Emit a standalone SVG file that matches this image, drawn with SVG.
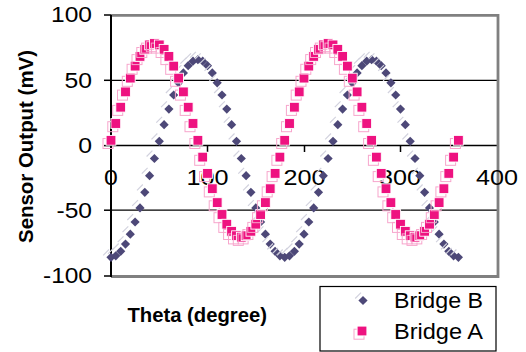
<svg xmlns="http://www.w3.org/2000/svg" width="526" height="352" viewBox="0 0 526 352">
<style>
.tick{font-family:"Liberation Sans",Arial,sans-serif;font-size:21.5px;fill:#000}
.title{font-family:"Liberation Sans",Arial,sans-serif;font-size:20px;font-weight:bold;fill:#000}
.leg{font-family:"Liberation Sans",Arial,sans-serif;font-size:22px;fill:#000}
.grid{stroke:#000;stroke-width:1.2}
.frame{stroke:#808080;fill:none}
</style>
<defs>
<g id="sq"><rect x="-8" y="-1.8" width="10" height="10" fill="none" stroke="#F7A6CC" stroke-width="1"/><rect x="-4.9" y="-4.9" width="9.8" height="9.8" fill="#EE1280" stroke="#fff" stroke-width="0.9"/></g>
<g id="dm"><line x1="-7.8" y1="-2" x2="-2" y2="-7.8" stroke="#D2D2DE" stroke-width="1.2"/><path d="M0,-4.6L4.6,0L0,4.6L-4.6,0Z" fill="#4D4878"/></g>
</defs>
<rect width="526" height="352" fill="#fff"/>
<g id="axes">
<line class="grid" x1="111" y1="80.3" x2="497" y2="80.3"/>
<line class="grid" x1="111" y1="210.2" x2="497" y2="210.2"/>
<line x1="111" y1="145.6" x2="497" y2="145.6" stroke="#000" stroke-width="1.5"/>
<g stroke="#000" stroke-width="1.5">
<line x1="207.5" y1="145.6" x2="207.5" y2="152"/>
<line x1="304.5" y1="145.6" x2="304.5" y2="152"/>
<line x1="400.5" y1="145.6" x2="400.5" y2="152"/>
<line x1="104" y1="15" x2="111" y2="15"/>
<line x1="104" y1="80.3" x2="111" y2="80.3"/>
<line x1="104" y1="145.6" x2="111" y2="145.6"/>
<line x1="104" y1="210.2" x2="111" y2="210.2"/>
<line x1="104" y1="276" x2="111" y2="276"/>
</g>
<path class="frame" d="M111,15.3H498V276.5H111" stroke-width="2.8"/>
<line x1="111" y1="15" x2="111" y2="277" stroke="#000" stroke-width="2"/>
</g>
<g id="labels">
<text class="tick" x="92" y="22" text-anchor="end" textLength="41" lengthAdjust="spacingAndGlyphs">100</text>
<text class="tick" x="92" y="87.5" text-anchor="end" textLength="27.5" lengthAdjust="spacingAndGlyphs">50</text>
<text class="tick" x="92" y="153" text-anchor="end" textLength="13.8" lengthAdjust="spacingAndGlyphs">0</text>
<text class="tick" x="92" y="217.5" text-anchor="end" textLength="35.5" lengthAdjust="spacingAndGlyphs">-50</text>
<text class="tick" x="92" y="283" text-anchor="end" textLength="49" lengthAdjust="spacingAndGlyphs">-100</text>
<text class="tick" x="111" y="185" text-anchor="middle" textLength="13.8" lengthAdjust="spacingAndGlyphs">0</text>
<text class="tick" x="207.5" y="185" text-anchor="middle" textLength="42" lengthAdjust="spacingAndGlyphs">100</text>
<text class="tick" x="304.5" y="185" text-anchor="middle" textLength="42" lengthAdjust="spacingAndGlyphs">200</text>
<text class="tick" x="400" y="185" text-anchor="middle" textLength="42" lengthAdjust="spacingAndGlyphs">300</text>
<text class="tick" x="497" y="185" text-anchor="middle" textLength="42" lengthAdjust="spacingAndGlyphs">400</text>
<text class="title" transform="translate(33,146.5) rotate(-90)" text-anchor="middle" textLength="193" lengthAdjust="spacingAndGlyphs">Sensor Output (mV)</text>
<text class="title" x="127.5" y="321.5" textLength="139.5" lengthAdjust="spacingAndGlyphs">Theta (degree)</text>
</g>
<g id="series-bridge-b">
<use href="#dm" x="111" y="257.3"/><use href="#dm" x="115.8" y="255.8"/><use href="#dm" x="120.7" y="251.3"/><use href="#dm" x="125.5" y="244.1"/><use href="#dm" x="130.3" y="234.2"/><use href="#dm" x="135.1" y="222"/><use href="#dm" x="140" y="207.9"/><use href="#dm" x="144.8" y="192.3"/><use href="#dm" x="149.6" y="175.7"/><use href="#dm" x="154.4" y="158.5"/><use href="#dm" x="159.3" y="141.3"/><use href="#dm" x="164.1" y="124.7"/><use href="#dm" x="168.9" y="109.1"/><use href="#dm" x="173.7" y="95"/><use href="#dm" x="178.6" y="82.8"/><use href="#dm" x="183.4" y="72.9"/><use href="#dm" x="188.2" y="65.7"/><use href="#dm" x="193" y="61.2"/><use href="#dm" x="197.9" y="59.7"/><use href="#dm" x="202.7" y="61.2"/><use href="#dm" x="207.5" y="65.7"/><use href="#dm" x="212.3" y="72.9"/><use href="#dm" x="217.2" y="82.8"/><use href="#dm" x="222" y="95"/><use href="#dm" x="226.8" y="109.1"/><use href="#dm" x="231.6" y="124.7"/><use href="#dm" x="236.5" y="141.3"/><use href="#dm" x="241.3" y="158.5"/><use href="#dm" x="246.1" y="175.7"/><use href="#dm" x="250.9" y="192.3"/><use href="#dm" x="255.8" y="207.9"/><use href="#dm" x="260.6" y="222"/><use href="#dm" x="265.4" y="234.2"/><use href="#dm" x="270.2" y="244.1"/><use href="#dm" x="275.1" y="251.3"/><use href="#dm" x="279.9" y="255.8"/><use href="#dm" x="284.7" y="257.3"/><use href="#dm" x="289.5" y="255.8"/><use href="#dm" x="294.4" y="251.3"/><use href="#dm" x="299.2" y="244.1"/><use href="#dm" x="304" y="234.2"/><use href="#dm" x="308.8" y="222"/><use href="#dm" x="313.7" y="207.9"/><use href="#dm" x="318.5" y="192.3"/><use href="#dm" x="323.3" y="175.7"/><use href="#dm" x="328.1" y="158.5"/><use href="#dm" x="333" y="141.3"/><use href="#dm" x="337.8" y="124.7"/><use href="#dm" x="342.6" y="109.1"/><use href="#dm" x="347.4" y="95"/><use href="#dm" x="352.3" y="82.8"/><use href="#dm" x="357.1" y="72.9"/><use href="#dm" x="361.9" y="65.7"/><use href="#dm" x="366.7" y="61.2"/><use href="#dm" x="371.6" y="59.7"/><use href="#dm" x="376.4" y="61.2"/><use href="#dm" x="381.2" y="65.7"/><use href="#dm" x="386" y="72.9"/><use href="#dm" x="390.9" y="82.8"/><use href="#dm" x="395.7" y="95"/><use href="#dm" x="400.5" y="109.1"/><use href="#dm" x="405.3" y="124.7"/><use href="#dm" x="410.2" y="141.3"/><use href="#dm" x="415" y="158.5"/><use href="#dm" x="419.8" y="175.7"/><use href="#dm" x="424.6" y="192.3"/><use href="#dm" x="429.5" y="207.9"/><use href="#dm" x="434.3" y="222"/><use href="#dm" x="439.1" y="234.2"/><use href="#dm" x="443.9" y="244.1"/><use href="#dm" x="448.8" y="251.3"/><use href="#dm" x="453.6" y="255.8"/><use href="#dm" x="458.4" y="257.3"/>
</g>
<g id="series-bridge-a">
<use href="#sq" x="111" y="140.3"/><use href="#sq" x="115.8" y="123.5"/><use href="#sq" x="120.7" y="107.2"/><use href="#sq" x="125.5" y="91.9"/><use href="#sq" x="130.3" y="78.1"/><use href="#sq" x="135.1" y="66.1"/><use href="#sq" x="140" y="56.4"/><use href="#sq" x="144.8" y="49.3"/><use href="#sq" x="149.6" y="44.9"/><use href="#sq" x="154.4" y="43.5"/><use href="#sq" x="159.3" y="44.9"/><use href="#sq" x="164.1" y="49.3"/><use href="#sq" x="168.9" y="56.4"/><use href="#sq" x="173.7" y="66.1"/><use href="#sq" x="178.6" y="78.1"/><use href="#sq" x="183.4" y="91.9"/><use href="#sq" x="188.2" y="107.2"/><use href="#sq" x="193" y="123.5"/><use href="#sq" x="197.9" y="140.3"/><use href="#sq" x="202.7" y="157.1"/><use href="#sq" x="207.5" y="173.4"/><use href="#sq" x="212.3" y="188.7"/><use href="#sq" x="217.2" y="202.6"/><use href="#sq" x="222" y="214.5"/><use href="#sq" x="226.8" y="224.2"/><use href="#sq" x="231.6" y="231.3"/><use href="#sq" x="236.5" y="235.7"/><use href="#sq" x="241.3" y="237.2"/><use href="#sq" x="246.1" y="235.7"/><use href="#sq" x="250.9" y="231.3"/><use href="#sq" x="255.8" y="224.2"/><use href="#sq" x="260.6" y="214.5"/><use href="#sq" x="265.4" y="202.6"/><use href="#sq" x="270.2" y="188.7"/><use href="#sq" x="275.1" y="173.4"/><use href="#sq" x="279.9" y="157.1"/><use href="#sq" x="284.7" y="140.3"/><use href="#sq" x="289.5" y="123.5"/><use href="#sq" x="294.4" y="107.2"/><use href="#sq" x="299.2" y="91.9"/><use href="#sq" x="304" y="78.1"/><use href="#sq" x="308.8" y="66.1"/><use href="#sq" x="313.7" y="56.4"/><use href="#sq" x="318.5" y="49.3"/><use href="#sq" x="323.3" y="44.9"/><use href="#sq" x="328.1" y="43.5"/><use href="#sq" x="333" y="44.9"/><use href="#sq" x="337.8" y="49.3"/><use href="#sq" x="342.6" y="56.4"/><use href="#sq" x="347.4" y="66.1"/><use href="#sq" x="352.3" y="78.1"/><use href="#sq" x="357.1" y="91.9"/><use href="#sq" x="361.9" y="107.2"/><use href="#sq" x="366.7" y="123.5"/><use href="#sq" x="371.6" y="140.3"/><use href="#sq" x="376.4" y="157.1"/><use href="#sq" x="381.2" y="173.4"/><use href="#sq" x="386" y="188.7"/><use href="#sq" x="390.9" y="202.6"/><use href="#sq" x="395.7" y="214.5"/><use href="#sq" x="400.5" y="224.2"/><use href="#sq" x="405.3" y="231.3"/><use href="#sq" x="410.2" y="235.7"/><use href="#sq" x="415" y="237.2"/><use href="#sq" x="419.8" y="235.7"/><use href="#sq" x="424.6" y="231.3"/><use href="#sq" x="429.5" y="224.2"/><use href="#sq" x="434.3" y="214.5"/><use href="#sq" x="439.1" y="202.6"/><use href="#sq" x="443.9" y="188.7"/><use href="#sq" x="448.8" y="173.4"/><use href="#sq" x="453.6" y="157.1"/><use href="#sq" x="458.4" y="140.3"/>
</g>
<g id="legend">
<rect x="320" y="286.5" width="176" height="64.5" fill="#fff" stroke="#000" stroke-width="1.2"/>
<use href="#dm" x="363" y="300.5"/>
<use href="#sq" x="362" y="331"/>
<text class="leg" x="394" y="308.3" textLength="89" lengthAdjust="spacingAndGlyphs">Bridge B</text>
<text class="leg" x="394" y="339" textLength="89" lengthAdjust="spacingAndGlyphs">Bridge A</text>
</g>
</svg>
